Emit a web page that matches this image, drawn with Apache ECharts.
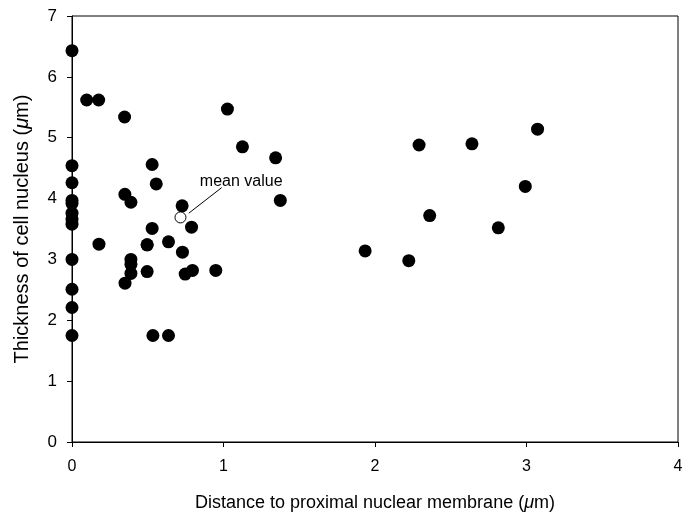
<!DOCTYPE html>
<html>
<head>
<meta charset="utf-8">
<script src="https://cdn.jsdelivr.net/npm/echarts@6/dist/echarts.min.js"></script>
<style>html,body{margin:0;padding:0;background:#fff}#c{width:684px;height:514px}</style>
</head>
<body>
<div id="c"></div>
<script>
// Distance to proximal nuclear membrane (µm)
const distance = [
  0, 0, 0, 0, 0, 0, 0, 0, 0, 0, 0, 0,
  0.097, 0.176, 0.178,
  0.347, 0.349, 0.35, 0.389, 0.389, 0.389, 0.389,
  0.496, 0.496, 0.496, 0.529, 0.529, 0.534, 0.556,
  0.637, 0.637, 0.727, 0.729, 0.747, 0.789, 0.795, 0.949,
  1.026, 1.125, 1.344, 1.375,
  1.935, 2.223, 2.291, 2.361, 2.640, 2.814, 2.992, 3.073
];
// Thickness of cell nucleus (µm)
const thickness = [
  6.43, 4.54, 4.26, 3.97, 3.92, 3.76, 3.66, 3.58, 3.00, 2.51, 2.21, 1.75,
  5.62, 5.62, 3.25,
  5.34, 4.07, 2.61, 3.94, 3.00, 2.92, 2.77,
  3.24, 2.80, 3.24, 4.56, 3.51, 1.75, 4.24,
  3.29, 1.75, 3.88, 3.12, 2.76, 3.53, 2.82, 2.82,
  5.47, 4.85, 4.67, 3.97,
  3.14, 2.98, 4.88, 3.72, 4.90, 3.52, 4.20, 5.14
];
const meanDistance = [0.716];
const meanThickness = [3.69];
const xTicks = [0, 1, 2, 3, 4];
const yTicks = [0, 1, 2, 3, 4, 5, 6, 7];

const pts = distance.map((d, i) => [d, thickness[i]]);
const meanPts = meanDistance.map((d, i) => [d, meanThickness[i]]);

const chart = echarts.init(document.getElementById('c'), null, {renderer: 'canvas'});
const font = 'Liberation Sans, Arial, sans-serif';
chart.setOption({
  animation: false,
  backgroundColor: '#fff',
  grid: {left: 72, right: 6, top: 16, bottom: 72, containLabel: false, outerBoundsMode: 'none',
         show: true, borderColor: '#000', borderWidth: 1},
  xAxis: {
    type: 'value', min: xTicks[0], max: xTicks[xTicks.length - 1], interval: 1,
    splitLine: {show: false},
    axisLine: {lineStyle: {color: '#000', width: 1}},
    axisTick: {show: true, length: 5, lineStyle: {color: '#000'}},
    axisLabel: {color: '#000', fontSize: 16, fontFamily: font, margin: 17},
    name: '{a|Distance to proximal nuclear membrane (}{i|μ}{a|m)}',
    nameLocation: 'middle', nameGap: 52,
    nameTextStyle: {rich: {
      a: {fontSize: 18, fontFamily: font, color: '#000'},
      i: {fontSize: 18, fontFamily: font, color: '#000', fontStyle: 'italic'}
    }}
  },
  yAxis: {
    type: 'value', min: yTicks[0], max: yTicks[yTicks.length - 1], interval: 1,
    splitLine: {show: false},
    axisLine: {show: true, lineStyle: {color: '#000', width: 1}},
    axisTick: {show: true, length: 5, lineStyle: {color: '#000'}},
    axisLabel: {color: '#000', fontSize: 17, fontFamily: font, margin: 15},
    name: '{a|Thickness of cell nucleus (}{i|μ}{a|m)}',
    nameLocation: 'middle', nameGap: 40, nameRotate: 90,
    nameTextStyle: {rich: {
      a: {fontSize: 20, fontFamily: font, color: '#000'},
      i: {fontSize: 20, fontFamily: font, color: '#000', fontStyle: 'italic'}
    }}
  },
  series: [
    {
      type: 'scatter', data: pts, symbol: 'circle', symbolSize: 13,
      itemStyle: {color: '#000', opacity: 1}
    },
    {
      type: 'scatter', data: meanPts, symbol: 'circle', symbolSize: 11,
      itemStyle: {color: '#fff', borderColor: '#000', borderWidth: 1, opacity: 1},
      z: 3,
      markLine: {
        silent: true, animation: false,
        symbol: ['none', 'arrow'], symbolSize: [0, 8],
        lineStyle: {color: '#000', width: 1, type: 'solid'},
        label: {show: false},
        data: [[{coord: [0.988, 4.18]}, {coord: [0.771, 3.76]}]]
      },
      markPoint: {
        silent: true, symbol: 'rect', symbolSize: 1,
        itemStyle: {color: 'rgba(0,0,0,0)'},
        label: {show: true, formatter: 'mean value', color: '#000', fontSize: 16, fontFamily: font},
        data: [{coord: [1.117, 4.28]}]
      }
    }
  ]
});
</script>
</body>
</html>
